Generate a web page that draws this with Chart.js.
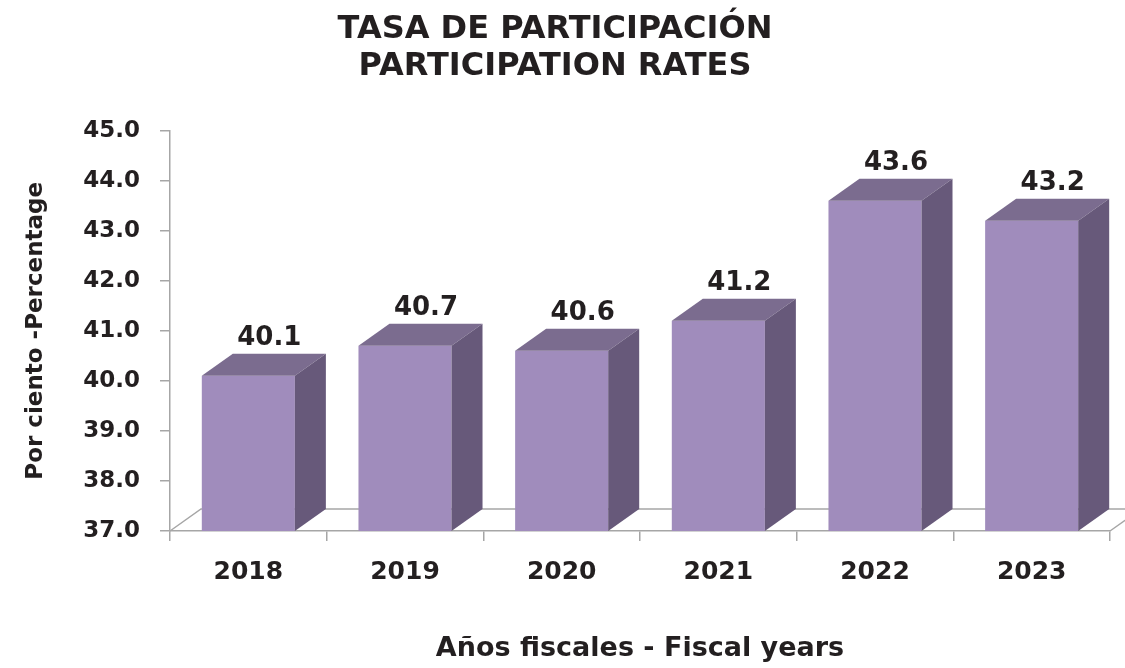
<!DOCTYPE html>
<html>
<head>
<meta charset="utf-8">
<script src="https://cdn.jsdelivr.net/npm/chart.js@4.4.1/dist/chart.umd.min.js"></script>
<style>
  html, body { margin: 0; padding: 0; background: #ffffff; }
  #wrap { width: 1125px; height: 668px; }
</style>
</head>
<body>
<div id="wrap"><canvas id="chart"></canvas></div>
<script>
// data
const years = ['2018', '2019', '2020', '2021', '2022', '2023'];
const rates = [40.1, 40.7, 40.6, 41.2, 43.6, 43.2];
const yMin = 37.0;
const yMax = 45.0;

const titleLines = ['TASA DE PARTICIPACIÓN', 'PARTICIPATION RATES'];
const yTitle = 'Por ciento -Percentage';
const xTitle = 'Años fiscales - Fiscal years';

const FONT = '"DejaVu Sans", Inter, sans-serif';
const TEXT = '#231f20';
const AXIS = '#a6a6a6';
const FRONT = '#a08cbc';
const TOP = '#7b6c8f';
const SIDE = '#67597a';

// depth of the fake 3d boxes
const DX = 31;
const DY = -22;

// floor + side/top faces + value labels
const box3d = {
    id: 'box3d',
    beforeDatasetsDraw(chart) {
        const ctx = chart.ctx;
        const a = chart.chartArea;
        ctx.save();
        ctx.strokeStyle = AXIS;
        ctx.lineWidth = 1.5;
        ctx.beginPath();
        ctx.moveTo(a.left, a.bottom);
        ctx.lineTo(a.left + DX, a.bottom + DY);
        ctx.lineTo(a.right + DX, a.bottom + DY);
        ctx.lineTo(a.right, a.bottom);
        ctx.stroke();
        ctx.restore();
    },
    afterDatasetsDraw(chart) {
        const ctx = chart.ctx;
        const meta = chart.getDatasetMeta(0);
        // bars start at 0, so the visible bottom is the axis minimum
        const b = chart.scales.y.getPixelForValue(yMin);
        ctx.save();
        meta.data.forEach(function (bar, i) {
            const half = bar.width / 2;
            const l = bar.x - half;
            const r = bar.x + half;
            const t = bar.y;

            // top face
            ctx.fillStyle = TOP;
            ctx.beginPath();
            ctx.moveTo(l, t);
            ctx.lineTo(l + DX, t + DY);
            ctx.lineTo(r + DX, t + DY);
            ctx.lineTo(r, t);
            ctx.closePath();
            ctx.fill();

            // side face
            ctx.fillStyle = SIDE;
            ctx.beginPath();
            ctx.moveTo(r, t);
            ctx.lineTo(r + DX, t + DY);
            ctx.lineTo(r + DX, b + DY);
            ctx.lineTo(r, b);
            ctx.closePath();
            ctx.fill();

            // value label
            ctx.fillStyle = TEXT;
            ctx.font = 'bold 26px ' + FONT;
            ctx.textAlign = 'center';
            ctx.textBaseline = 'alphabetic';
            ctx.fillText(rates[i].toFixed(1), bar.x + 21, t + DY - 9);
        });
        ctx.restore();
    }
};

new Chart(document.getElementById('chart'), {
    type: 'bar',
    data: {
        labels: years,
        datasets: [{
            data: rates,
            backgroundColor: FRONT,
            borderWidth: 0,
            categoryPercentage: 1.0,
            barPercentage: 0.594
        }]
    },
    options: {
        responsive: true,
        maintainAspectRatio: false,
        animation: false,
        layout: { padding: { left: 0, right: 15, top: 0, bottom: 0 } },
        plugins: {
            legend: { display: false },
            tooltip: { enabled: false },
            title: {
                display: true,
                text: titleLines,
                color: TEXT,
                font: { family: FONT, size: 32, weight: 'bold', lineHeight: 1.15 },
                padding: { top: 11, bottom: 46 }
            }
        },
        scales: {
            x: {
                offset: true,
                grid: {
                    offset: true,
                    drawOnChartArea: false,
                    color: AXIS,
                    lineWidth: 1.5,
                    tickLength: 10
                },
                border: { color: AXIS, width: 1.5 },
                ticks: {
                    color: TEXT,
                    padding: 16,
                    font: { family: FONT, size: 25, weight: 'bold' }
                },
                title: {
                    display: true,
                    text: xTitle,
                    color: TEXT,
                    font: { family: FONT, size: 27, weight: 'bold', lineHeight: 1.2 },
                    padding: { top: 0, bottom: 3 }
                },
                afterFit(scale) { scale.height = 137; }
            },
            y: {
                min: yMin,
                max: yMax,
                grid: {
                    drawOnChartArea: false,
                    color: AXIS,
                    lineWidth: 1.5,
                    tickLength: 10
                },
                border: { color: AXIS, width: 1.5 },
                ticks: {
                    stepSize: 1,
                    color: TEXT,
                    padding: 20,
                    font: { family: FONT, size: 23, weight: 'bold' },
                    callback: function (v) { return Number(v).toFixed(1); }
                },
                title: {
                    display: true,
                    text: yTitle,
                    color: TEXT,
                    font: { family: FONT, size: 23, weight: 'bold', lineHeight: 1.2 },
                    padding: { top: 22, bottom: 0 }
                },
                afterFit(scale) { scale.width = 170; }
            }
        }
    },
    plugins: [box3d]
});
</script>
</body>
</html>
